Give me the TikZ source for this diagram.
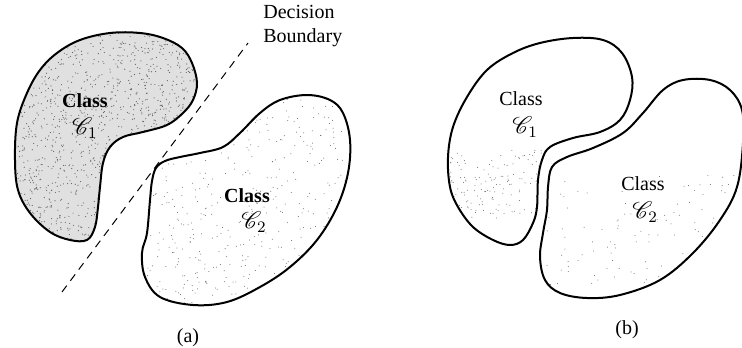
\documentclass[tikz,border=0pt]{standalone}
\usepackage{fontspec}
\setmainfont{Liberation Serif}
\usepackage{mathrsfs}
\begin{document}
\begin{tikzpicture}[x=0.5pt, y=-0.5pt]

\tikzset{
  blob/.style={line width=1pt, line join=round},
  boldlabel/.style={font=\normalsize\bfseries, inner sep=1pt},
  plainlabel/.style={font=\normalsize, inner sep=1pt},
  classid/.style={font=\large, inner sep=1pt},
  boundary/.style={line width=0.5pt, dash pattern=on 4pt off 3pt},
  stipple/.style={fill=black!60},
}

\useasboundingbox (0,0) rectangle (742,347);

\def\blobAone{plot[smooth cycle, tension=0.6] coordinates {(17,123) (27,93) (40,70) (57,53) (80,40) (110,33) (140,33) (163,38) (182,48) (192,63) (197,83) (193,100) (183,113) (167,125) (143,132) (123,137) (110,147) (103,163) (100,187) (98,207) (95,227) (87,240) (70,240) (50,232) (30,213) (18,190) (15,160)}}
\def\blobAtwo{plot[smooth cycle, tension=0.6] coordinates {(156,168) (165,161) (180,157) (200,153) (223,147) (240,133) (260,113) (280,100) (307,95) (330,100) (343,113) (350,140) (348,173) (337,207) (317,240) (290,267) (260,287) (227,302) (193,305) (160,297) (145,277) (142,253) (147,233) (150,200) (152,181)}}
\def\blobBone{plot[smooth cycle, tension=0.6] coordinates {(450,187) (448,157) (453,127) (467,97) (487,70) (513,53) (540,43) (573,38) (603,40) (622,53) (632,77) (630,100) (620,120) (600,132) (573,138) (550,147) (542,160) (538,180) (537,207) (533,223) (523,240) (510,245) (493,240) (473,227) (458,207)}}
\def\blobBtwo{plot[smooth cycle, tension=0.6] coordinates {(552,167) (567,157) (593,148) (623,133) (643,113) (663,90) (683,80) (710,80) (730,90) (742,110) (743,143) (737,187) (720,220) (693,253) (660,280) (620,295) (587,298) (560,293) (545,280) (540,257) (543,233) (547,210) (548,187)}}

\pgfmathsetseed{42}

% (a) stippled regions
\begin{scope}
  \clip \blobAone;
  \fill[black!12] (0,0) rectangle (200,250);
  \foreach \i in {1,...,1500}
    \fill[stipple] ({15+185*rnd},{30+215*rnd}) circle (0.3pt);
\end{scope}
\begin{scope}
  \clip \blobAtwo;
  \foreach \i in {1,...,500}
    \fill[stipple] ({140+212*rnd},{92+215*rnd}) circle (0.25pt);
\end{scope}

% (b) faint stipple
\begin{scope}
  \clip \blobBone;
  \foreach \i in {1,...,160}
    \fill[stipple] ({448+100*rnd},{150+70*rnd}) circle (0.25pt);
\end{scope}
\begin{scope}
  \clip \blobBtwo;
  \foreach \i in {1,...,120}
    \fill[stipple] ({545+200*rnd},{175+110*rnd}) circle (0.25pt);
\end{scope}

% outlines
\draw[blob] \blobAone;
\draw[blob] \blobAtwo;
\draw[blob] \blobBone;
\draw[blob] \blobBtwo;

% decision boundary
\coordinate (bdlow) at (62,292);
\coordinate (bdhigh) at (248,43);
\draw[boundary] (bdlow) -- (bdhigh);
\node[anchor=west, align=left, inner sep=0pt] (bdtext) at (263,26) {Decision\\Boundary};

% labels
\node[boldlabel] (aclsone) at (85,101) {Class};
\node[classid] (aidone) at (85,128) {$\mathscr{C}_1$};
\node[boldlabel] (aclstwo) at (247,196) {Class};
\node[classid] (aidtwo) at (254,222) {$\mathscr{C}_2$};

\node[plainlabel] (bclsone) at (521,99) {Class};
\node[classid] (bidone) at (525,127) {$\mathscr{C}_1$};
\node[plainlabel] (bclstwo) at (643,184) {Class};
\node[classid] (bidtwo) at (645,212) {$\mathscr{C}_2$};

\node[plainlabel] (capa) at (188,338) {(a)};
\node[plainlabel] (capb) at (627,330) {(b)};

\end{tikzpicture}
\end{document}
